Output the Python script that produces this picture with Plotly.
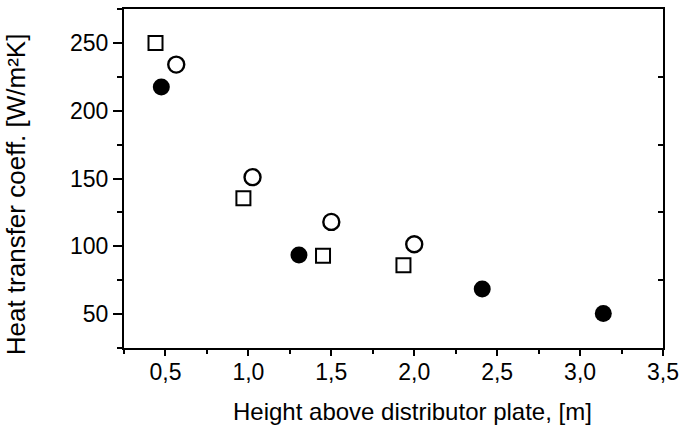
import plotly.graph_objects as go

# Data
sq_x = [0.44, 0.97, 1.45, 1.935]
sq_y = [250, 135.5, 93, 86]
oc_x = [0.565, 1.025, 1.50, 2.00]
oc_y = [234, 151, 118, 101.5]
fc_x = [0.475, 1.305, 2.41, 3.14]
fc_y = [217.5, 93.5, 68.5, 50.5]

x_ticks = [0.5, 1.0, 1.5, 2.0, 2.5, 3.0, 3.5]
x_labels = ["0,5", "1,0", "1,5", "2,0", "2,5", "3,0", "3,5"]
y_ticks = [50, 100, 150, 200, 250]
y_labels = ["50", "100", "150", "200", "250"]
y_minor_right = [75, 125, 175, 225]

x_title = "Height above distributor plate, [m]"
y_title = "Heat transfer coeff. [W/m²K]"

FONT = "Liberation Sans, Arial, sans-serif"

fig = go.Figure()
fig.add_trace(go.Scatter(x=sq_x, y=sq_y, mode="markers",
                         marker=dict(symbol="square-open", size=14, color="black",
                                     line=dict(width=2, color="black"))))
fig.add_trace(go.Scatter(x=oc_x, y=oc_y, mode="markers",
                         marker=dict(symbol="circle-open", size=16, color="black",
                                     line=dict(width=2.4, color="black"))))
fig.add_trace(go.Scatter(x=fc_x, y=fc_y, mode="markers",
                         marker=dict(symbol="circle", size=17, color="black",
                                     line=dict(width=0))))
fig.add_trace(go.Scatter(x=[None], y=[None], yaxis="y2", showlegend=False))

fig.update_layout(
    width=682, height=430,
    margin=dict(l=124, r=19, t=9, b=82, autoexpand=False),
    paper_bgcolor="white", plot_bgcolor="white",
    showlegend=False,
    font=dict(family=FONT, color="black"),
    xaxis=dict(range=[0.25, 3.5], tickvals=x_ticks, ticktext=x_labels,
               ticks="outside", ticklen=6, tickwidth=1.5, tickcolor="black",
               ticklabelstandoff=-4,
               minor=dict(dtick=0.25, tick0=0.25, ticks="outside", ticklen=4, tickcolor="black"),
               showline=True, linecolor="black", linewidth=2, mirror=True,
               showgrid=False, zeroline=False, automargin=False,
               tickfont=dict(size=23, family=FONT)),
    yaxis=dict(range=[25, 275], tickvals=y_ticks, ticktext=y_labels,
               ticks="outside", ticklen=9, tickwidth=1.5, tickcolor="black",
               minor=dict(dtick=25, tick0=25, ticks="outside", ticklen=5, tickcolor="black"),
               showline=True, linecolor="black", linewidth=2, mirror=True,
               showgrid=False, zeroline=False, automargin=False,
               tickfont=dict(size=23, family=FONT)),
    yaxis2=dict(range=[25, 275], overlaying="y", side="right",
                tickvals=y_minor_right, ticktext=["", "", "", ""],
                ticks="inside", ticklen=5, tickwidth=1.5, tickcolor="black",
                showgrid=False, zeroline=False, showline=False, automargin=False),
    annotations=[
        dict(text=x_title, xref="paper", yref="paper", x=0.535, y=-0.187,
             xanchor="center", yanchor="middle", showarrow=False,
             font=dict(size=24, family=FONT, color="black")),
        dict(text=y_title, xref="paper", yref="paper", x=-0.2, y=0.454,
             xanchor="center", yanchor="middle", showarrow=False, textangle=-90,
             font=dict(size=26, family=FONT, color="black")),
    ],
)

fig.write_html("out.html", config={"displayModeBar": False},
               post_script="document.body.style.margin='0px';")
